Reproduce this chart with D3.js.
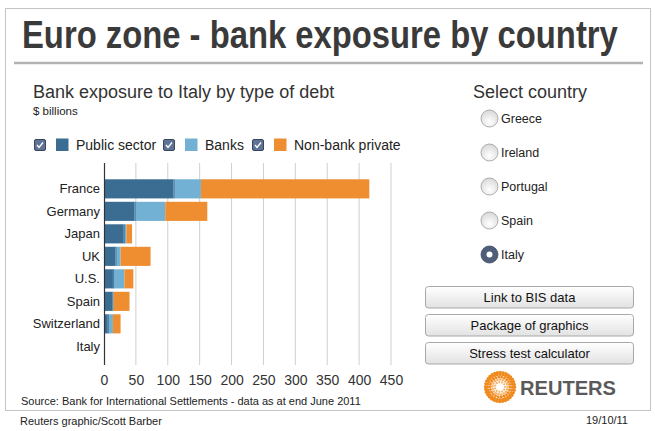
<!DOCTYPE html>
<html>
<head>
<meta charset="utf-8">
<script src="https://cdn.jsdelivr.net/npm/d3@7"></script>
<style>
  body { margin: 0; background: #fff; }
  svg { font-family: "Liberation Sans", Arial, Helvetica, sans-serif; display: block; }
</style>
</head>
<body>
<svg id="canvas" width="655" height="431"></svg>
<script>
// data ($ billions, exposure to Italy)
let countries = ["France", "Germany", "Japan", "UK", "U.S.", "Spain", "Switzerland", "Italy"]
let publicSector = [109, 48, 31, 18, 14, 13, 6, 0]
let banks = [43, 48, 4, 8, 18, 2, 8, 0]
let nonBankPrivate = [264, 66, 9, 47, 14, 25, 12, 0]
let seriesNames = ["Public sector", "Banks", "Non-bank private"]
let seriesColors = ["#3b6d93", "#72b1d4", "#ef8e30"]
let xTicks = [0, 50, 100, 150, 200, 250, 300, 350, 400, 450]
let radioCountries = ["Greece", "Ireland", "Portugal", "Spain", "Italy"]
let selectedCountry = "Italy"
let buttons = ["Link to BIS data", "Package of graphics", "Stress test calculator"]

let canvas = d3.select("#canvas")
let defs = canvas.append("defs")

let g1 = defs.append("linearGradient").attr("id", "btnGrad").attr("x1", 0).attr("y1", 0).attr("x2", 0).attr("y2", 1)
g1.append("stop").attr("offset", "0%").attr("stop-color", "#ffffff")
g1.append("stop").attr("offset", "100%").attr("stop-color", "#e2e2e2")

let g2 = defs.append("radialGradient").attr("id", "radioGrad").attr("cx", "50%").attr("cy", "70%").attr("r", "70%")
g2.append("stop").attr("offset", "0%").attr("stop-color", "#ffffff")
g2.append("stop").attr("offset", "100%").attr("stop-color", "#d8d8d8")

// frame + title
canvas.append("rect").attr("x", 5.5).attr("y", 8.5).attr("width", 645).attr("height", 402)
    .attr("fill", "none").attr("stroke", "#c4c4c4")
let title = canvas.append("text")
    .attr("font-size", 38).attr("font-weight", "bold").attr("fill", "#3a3a3a")
    .text("Euro zone - bank exposure by country")
// squeeze horizontally so the title spans the same width as the original
let tw = title.node().getComputedTextLength()
title.attr("transform", "translate(22,48) scale(" + (596 / tw) + ",1)")
canvas.append("line").attr("x1", 14).attr("x2", 643).attr("y1", 63).attr("y2", 63)
    .attr("stroke", "#b2b2b2").attr("stroke-width", 2.5)

canvas.append("text").attr("x", 33).attr("y", 98).attr("font-size", 18).attr("fill", "#333")
    .text("Bank exposure to " + selectedCountry + " by type of debt")
canvas.append("text").attr("x", 33).attr("y", 115).attr("font-size", 11.5).attr("fill", "#222")
    .text("$ billions")

// legend
let legendX = [34, 163, 252]
seriesNames.forEach((name, i) => {
    let lg = canvas.append("g").attr("transform", "translate(" + legendX[i] + ",139)")
    lg.append("rect").attr("x", 0.5).attr("y", 0.5).attr("width", 11).attr("height", 11).attr("rx", 1.5)
        .attr("fill", "#5f7394").attr("stroke", "#39455c")
    lg.append("path").attr("d", "M3,6 L5,8.5 L9,3.5").attr("fill", "none")
        .attr("stroke", "#fff").attr("stroke-width", 1.3)
    lg.append("rect").attr("x", 22).attr("y", -0.5).attr("width", 12.5).attr("height", 12.5)
        .attr("fill", seriesColors[i])
    lg.append("text").attr("x", 42).attr("y", 10.5).attr("font-size", 14).attr("fill", "#222")
        .text(name)
})

// chart
let x = d3.scaleLinear().domain([0, 450]).range([104, 391])
let y = d3.scaleBand().domain(countries).range([177.6, 357.6]).paddingInner(0.15).paddingOuter(0.075)

let grid = canvas.append("g")
grid.selectAll("line").data(xTicks.slice(1)).enter().append("line")
    .attr("x1", d => x(d)).attr("x2", d => x(d)).attr("y1", 163).attr("y2", 365)
    .attr("stroke", "#cfcfcf").attr("stroke-width", 1)

let stackData = countries.map((c, i) => ({ country: c, 0: publicSector[i], 1: banks[i], 2: nonBankPrivate[i] }))
let stacked = d3.stack().keys([0, 1, 2])(stackData)

canvas.append("g").selectAll("g").data(stacked).enter().append("g")
    .attr("fill", (d, i) => seriesColors[i])
    .selectAll("rect").data(d => d).enter().append("rect")
    .attr("x", d => x(d[0]))
    .attr("y", d => y(d.data.country))
    .attr("width", d => Math.max(0, x(d[1]) - x(d[0])))
    .attr("height", y.bandwidth())

// thin dark edge between segments
canvas.append("g").selectAll("line").data(stacked[0].filter(d => d[1] > 0)).enter().append("line")
    .attr("x1", d => x(d[1]) + 0.5).attr("x2", d => x(d[1]) + 0.5)
    .attr("y1", d => y(d.data.country)).attr("y2", d => y(d.data.country) + y.bandwidth())
    .attr("stroke", "#2d5676").attr("stroke-width", 1).attr("opacity", 0.6)

canvas.append("line").attr("x1", 104.5).attr("x2", 104.5).attr("y1", 163).attr("y2", 365)
    .attr("stroke", "#333").attr("stroke-width", 1.2)

let yAxis = canvas.append("g").attr("transform", "translate(100,0)")
    .call(d3.axisLeft(y).tickSize(0).tickPadding(0))
yAxis.select(".domain").remove()
yAxis.selectAll("text").attr("font-size", 13).attr("fill", "#222")
    .attr("font-family", "'Liberation Sans', Arial, sans-serif")

let xAxis = canvas.append("g").attr("transform", "translate(0,371)")
    .call(d3.axisBottom(x).tickValues(xTicks).tickSize(0).tickPadding(0))
xAxis.select(".domain").remove()
xAxis.selectAll("text").attr("font-size", 14).attr("fill", "#333").attr("dy", "1em")
    .attr("font-family", "'Liberation Sans', Arial, sans-serif")

canvas.append("text").attr("x", 21).attr("y", 405).attr("font-size", 11).attr("fill", "#222")
    .text("Source: Bank for International Settlements - data as at end June 2011")

// right panel
canvas.append("text").attr("x", 473).attr("y", 98).attr("font-size", 18).attr("fill", "#333")
    .text("Select country")

let radios = canvas.append("g").selectAll("g").data(radioCountries).enter().append("g")
    .attr("transform", (d, i) => "translate(489.5," + (118.5 + i * 34) + ")")
radios.append("circle").attr("r", 8.5)
    .attr("fill", d => d === selectedCountry ? "#4f5f7a" : "url(#radioGrad)")
    .attr("stroke", d => d === selectedCountry ? "#3c4860" : "#9a9a9a").attr("stroke-width", 0.8)
radios.filter(d => d === selectedCountry).append("circle").attr("r", 3).attr("fill", "#fff")
radios.append("text").attr("x", 11.5).attr("y", 4.5).attr("font-size", 12.5).attr("fill", "#222")
    .text(d => d)

let btns = canvas.append("g").selectAll("g").data(buttons).enter().append("g")
    .attr("transform", (d, i) => "translate(425.5," + (286.5 + i * 28) + ")")
btns.append("rect").attr("width", 208).attr("height", 21.5).attr("rx", 3)
    .attr("fill", "url(#btnGrad)").attr("stroke", "#a8a8a8")
btns.append("text").attr("x", 104).attr("y", 15).attr("text-anchor", "middle")
    .attr("font-size", 13).attr("fill", "#111").text(d => d)

// reuters logo
let logo = canvas.append("g").attr("transform", "translate(500,387)")
let rings = [5, 7.5, 10, 12.5, 14.5]
rings.forEach((r, k) => {
    let n = Math.round(r * 2.2)
    logo.selectAll(null).data(d3.range(n)).enter().append("circle")
        .attr("cx", i => r * Math.cos(i / n * 2 * Math.PI + k * 0.3))
        .attr("cy", i => r * Math.sin(i / n * 2 * Math.PI + k * 0.3))
        .attr("r", 1.1 + k * 0.15)
        .attr("fill", k < 2 ? "#f6b26a" : "#f08a1e")
})
canvas.append("text").attr("x", 520).attr("y", 395).attr("font-size", 20).attr("font-weight", "bold")
    .attr("fill", "#5a5a5a").attr("textLength", 96).attr("lengthAdjust", "spacingAndGlyphs")
    .text("REUTERS")

// footer
canvas.append("text").attr("x", 20).attr("y", 425).attr("font-size", 11).attr("fill", "#222")
    .text("Reuters graphic/Scott Barber")
canvas.append("text").attr("x", 628).attr("y", 424).attr("text-anchor", "end").attr("font-size", 11).attr("fill", "#222")
    .text("19/10/11")
</script>
</body>
</html>
